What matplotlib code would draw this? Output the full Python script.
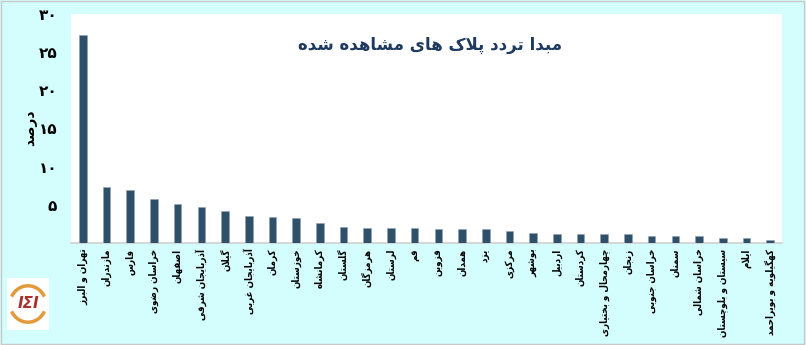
import matplotlib
matplotlib.use("Agg")
import matplotlib.pyplot as plt
from matplotlib.patches import Rectangle, Arc

# ---------------- data ----------------
provinces = [
    "تهران و البرز", "مازندران", "فارس", "خراسان رضوی", "اصفهان",
    "آذربایجان شرقی", "گیلان", "آذربایجان غربی", "کرمان", "خوزستان",
    "کرمانشاه", "گلستان", "هرمزگان", "لرستان", "قم",
    "قزوین", "همدان", "یزد", "مرکزی", "بوشهر",
    "اردبیل", "کردستان", "چهارمحال و بختیاری", "زنجان", "خراسان جنوبی",
    "سمنان", "خراسان شمالی", "سیستان و بلوچستان", "ایلام", "کهگیلویه و بویراحمد",
]
percent = [
    27.2, 7.4, 7.0, 5.75, 5.1,
    4.7, 4.25, 3.5, 3.4, 3.25,
    2.6, 2.1, 2.0, 2.0, 1.9,
    1.85, 1.85, 1.8, 1.55, 1.3,
    1.2, 1.2, 1.15, 1.15, 0.95,
    0.95, 0.93, 0.6, 0.6, 0.4,
]
ytick_values = [5, 10, 15, 20, 25, 30]
ytick_labels = ["۵", "۱۰", "۱۵", "۲۰", "۲۵", "۳۰"]
title_text = "مبدا تردد پلاک های مشاهده شده"
ylabel_text = "درصد"

# ------------- simple Arabic/Persian shaping -------------
# forms: (isolated, final, initial, medial); 2-tuple => joins only to the right
FORMS = {
    "ا": (0xFE8D, 0xFE8E), "آ": (0xFE81, 0xFE82),
    "ب": (0xFE8F, 0xFE90, 0xFE91, 0xFE92), "پ": (0xFB56, 0xFB57, 0xFB58, 0xFB59),
    "ت": (0xFE95, 0xFE96, 0xFE97, 0xFE98), "ث": (0xFE99, 0xFE9A, 0xFE9B, 0xFE9C),
    "ج": (0xFE9D, 0xFE9E, 0xFE9F, 0xFEA0), "چ": (0xFB7A, 0xFB7B, 0xFB7C, 0xFB7D),
    "ح": (0xFEA1, 0xFEA2, 0xFEA3, 0xFEA4), "خ": (0xFEA5, 0xFEA6, 0xFEA7, 0xFEA8),
    "د": (0xFEA9, 0xFEAA), "ذ": (0xFEAB, 0xFEAC), "ر": (0xFEAD, 0xFEAE),
    "ز": (0xFEAF, 0xFEB0), "ژ": (0xFB8A, 0xFB8B),
    "س": (0xFEB1, 0xFEB2, 0xFEB3, 0xFEB4), "ش": (0xFEB5, 0xFEB6, 0xFEB7, 0xFEB8),
    "ص": (0xFEB9, 0xFEBA, 0xFEBB, 0xFEBC), "ض": (0xFEBD, 0xFEBE, 0xFEBF, 0xFEC0),
    "ط": (0xFEC1, 0xFEC2, 0xFEC3, 0xFEC4), "ظ": (0xFEC5, 0xFEC6, 0xFEC7, 0xFEC8),
    "ع": (0xFEC9, 0xFECA, 0xFECB, 0xFECC), "غ": (0xFECD, 0xFECE, 0xFECF, 0xFED0),
    "ف": (0xFED1, 0xFED2, 0xFED3, 0xFED4), "ق": (0xFED5, 0xFED6, 0xFED7, 0xFED8),
    "ک": (0xFB8E, 0xFB8F, 0xFB90, 0xFB91), "گ": (0xFB92, 0xFB93, 0xFB94, 0xFB95),
    "ل": (0xFEDD, 0xFEDE, 0xFEDF, 0xFEE0), "م": (0xFEE1, 0xFEE2, 0xFEE3, 0xFEE4),
    "ن": (0xFEE5, 0xFEE6, 0xFEE7, 0xFEE8), "ه": (0xFEE9, 0xFEEA, 0xFEEB, 0xFEEC),
    "و": (0xFEED, 0xFEEE), "ی": (0xFBFC, 0xFBFD, 0xFBFE, 0xFBFF),
}


def joins_left(ch):
    return ch in FORMS and len(FORMS[ch]) == 4


def shape(text):
    chars = list(text)
    out = []
    i = 0
    n = len(chars)
    while i < n:
        c = chars[i]
        if c not in FORMS:
            out.append(c)
            i += 1
            continue
        prev = chars[i - 1] if i > 0 else None
        prev_joins = prev is not None and joins_left(prev)
        if c == "ل" and i + 1 < n and chars[i + 1] in ("ا", "آ"):
            if chars[i + 1] == "ا":
                out.append(chr(0xFEFC if prev_joins else 0xFEFB))
            else:
                out.append(chr(0xFEF6 if prev_joins else 0xFEF5))
            i += 2
            continue
        nxt = chars[i + 1] if i + 1 < n else None
        next_joins = nxt is not None and nxt in FORMS and joins_left(c)
        f = FORMS[c]
        if prev_joins and next_joins:
            g = f[3]
        elif prev_joins:
            g = f[1]
        elif next_joins:
            g = f[2]
        else:
            g = f[0]
        out.append(chr(g))
        i += 1
    return "".join(out)[::-1]


# ---------------- figure ----------------
BG = "#D4FEFE"
BAR = "#2E5068"
TITLE_C = "#1F3A60"
FONT = ["DejaVu Sans"]

fig = plt.figure(figsize=(8.06, 3.45), dpi=100, facecolor=BG)
ax = fig.add_axes([71 / 806, 1 - 243 / 345, (782 - 71) / 806, (243 - 14) / 345])
ax.set_facecolor("white")

x = list(range(len(provinces)))
ax.bar(x, percent, width=0.32, color=BAR, edgecolor="#8FA3B3", linewidth=0.4, zorder=3)

ax.set_xlim(-0.5, len(provinces) - 0.5)
ax.set_ylim(0, 30)
ax.set_yticks(ytick_values)
ax.set_yticklabels(ytick_labels, fontsize=11, fontweight="bold", family=FONT)
ax.set_xticks(x)
ax.set_xticklabels([shape(p) for p in provinces], rotation=90, fontsize=7,
                   fontweight="bold", fontstretch="condensed", family=FONT,
                   va="top", ha="center")
ax.tick_params(axis="both", length=0)
ax.tick_params(axis="y", pad=10)
ax.tick_params(axis="x", pad=4)

for s in ("top", "right", "left"):
    ax.spines[s].set_visible(False)
ax.spines["bottom"].set_color("#D0D0D0")
ax.spines["bottom"].set_linewidth(1.2)

ax.text(0.505, 0.865, shape(title_text), transform=ax.transAxes, ha="center",
        va="center", fontsize=12, fontweight="bold", color=TITLE_C, family=FONT)

fig.text(30 / 806, 1 - 128 / 345, shape(ylabel_text), rotation=90, ha="center",
         va="center", fontsize=10, fontweight="bold", family=FONT)

# figure border
fig.patches.append(Rectangle((0.001, 0.002), 0.997, 0.995, transform=fig.transFigure,
                             fill=False, edgecolor="#C8C8C8", linewidth=1))

# small logo at bottom-left
lax = fig.add_axes([7 / 806, 1 - 330 / 345, 42 / 806, 52 / 345])
lax.set_xlim(0, 1)
lax.set_ylim(0, 1)
lax.set_facecolor("white")
for s in lax.spines.values():
    s.set_visible(False)
lax.set_xticks([])
lax.set_yticks([])
lax.add_patch(Arc((0.5, 0.5), 0.85, 0.7, theta1=20, theta2=160, color="#E39A3C", lw=2.5))
lax.add_patch(Arc((0.5, 0.5), 0.85, 0.7, theta1=200, theta2=340, color="#E39A3C", lw=2.5))
lax.text(0.5, 0.5, "IΣI", ha="center", va="center", fontsize=11, fontweight="bold",
         style="italic", color="#A8322A")

fig.savefig("out.png", dpi=100, facecolor=BG)
